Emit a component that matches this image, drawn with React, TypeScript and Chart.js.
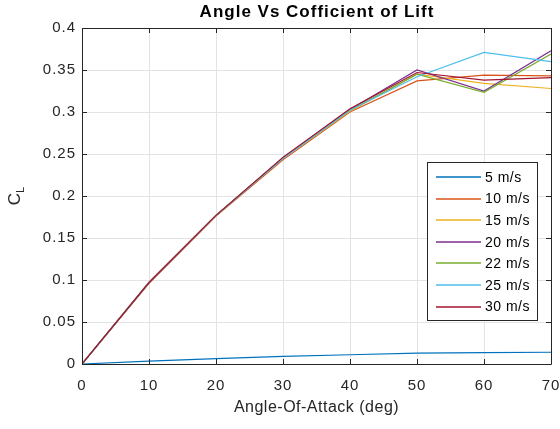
import React, { useEffect, useRef } from "react";
import { Chart, registerables } from "chart.js";

Chart.register(...registerables);

const angles = [0, 10, 20, 30, 40, 50, 60, 70];
const cl5 = [0, 0.0035, 0.0065, 0.009, 0.011, 0.013, 0.0135, 0.014];
const cl10 = [0, 0.096, 0.176, 0.243, 0.3, 0.337, 0.344, 0.343];
const cl15 = [0, 0.097, 0.177, 0.245, 0.301, 0.345, 0.334, 0.328];
const cl20 = [0, 0.097, 0.177, 0.246, 0.303, 0.35, 0.325, 0.373];
const cl22 = [0, 0.097, 0.177, 0.245, 0.302, 0.345, 0.3235, 0.369];
const cl25 = [0, 0.097, 0.177, 0.245, 0.302, 0.342, 0.371, 0.36];
const cl30 = [0, 0.097, 0.177, 0.246, 0.304, 0.347, 0.338, 0.341];

const seriesLabels = ["5 m/s", "10 m/s", "15 m/s", "20 m/s", "22 m/s", "25 m/s", "30 m/s"];
const seriesValues = [cl5, cl10, cl15, cl20, cl22, cl25, cl30];
const seriesColors = ["#0072BD", "#D95319", "#EDB120", "#7E2F8E", "#77AC30", "#4DBEEE", "#A2142F"];

const titleText = "Angle Vs Cofficient of Lift";
const xLabel = "Angle-Of-Attack (deg)";

const FONT = "'Liberation Sans', Arial, Helvetica, sans-serif";
const AXC = "#262626";

const spacingPlugin = {
  id: "spacing",
  beforeDraw(chart: any) {
    (chart.ctx as any).letterSpacing = "1px";
  },
  afterDraw(chart: any) {
    (chart.ctx as any).letterSpacing = "0px";
  },
};

const decorPlugin = {
  id: "decor",
  afterDatasetsDraw(chart: any) {
    const ctx = chart.ctx;
    const a = chart.chartArea;
    const xs = chart.scales.x;
    const ys = chart.scales.y;
    ctx.save();
    ctx.strokeStyle = AXC;
    ctx.lineWidth = 1;
    ctx.beginPath();
    ctx.rect(Math.round(a.left) + 0.5, Math.round(a.top) + 0.5, Math.round(a.right - a.left), Math.round(a.bottom - a.top));
    ctx.stroke();
    const tl = 5;
    ctx.beginPath();
    xs.ticks.forEach((t: any) => {
      const px = Math.round(xs.getPixelForValue(t.value)) + 0.5;
      ctx.moveTo(px, a.bottom);
      ctx.lineTo(px, a.bottom - tl);
      ctx.moveTo(px, a.top);
      ctx.lineTo(px, a.top + tl);
    });
    ys.ticks.forEach((t: any) => {
      const py = Math.round(ys.getPixelForValue(t.value)) + 0.5;
      ctx.moveTo(a.left, py);
      ctx.lineTo(a.left + tl, py);
      ctx.moveTo(a.right, py);
      ctx.lineTo(a.right - tl, py);
    });
    ctx.stroke();

    // title
    ctx.fillStyle = "#000";
    ctx.letterSpacing = "1px";
    ctx.font = `bold 17px ${FONT}`;
    ctx.textAlign = "center";
    ctx.textBaseline = "middle";
    ctx.fillText(titleText, (a.left + a.right) / 2 + 0.5, 12);

    // x label
    ctx.fillStyle = AXC;
    ctx.letterSpacing = "0.5px";
    ctx.font = `16px ${FONT}`;
    ctx.fillText(xLabel, (a.left + a.right) / 2, 408);

    // y label C_L
    ctx.save();
    ctx.letterSpacing = "0px";
    ctx.translate(20, (a.top + a.bottom) / 2);
    ctx.rotate(-Math.PI / 2);
    ctx.font = `17px ${FONT}`;
    const cw = ctx.measureText("C").width;
    ctx.font = `11px ${FONT}`;
    const lw = ctx.measureText("L").width;
    const total = cw + lw;
    ctx.textAlign = "left";
    ctx.textBaseline = "alphabetic";
    ctx.font = `17px ${FONT}`;
    ctx.fillText("C", -total / 2, 0);
    ctx.font = `11px ${FONT}`;
    ctx.fillText("L", -total / 2 + cw, 4);
    ctx.restore();

    // legend
    const lx0 = 427, ly0 = 162, lx1 = 537, ly1 = 320;
    ctx.fillStyle = "#fff";
    ctx.fillRect(lx0, ly0, lx1 - lx0, ly1 - ly0);
    ctx.strokeStyle = AXC;
    ctx.lineWidth = 1;
    ctx.strokeRect(lx0 + 0.5, ly0 + 0.5, lx1 - lx0, ly1 - ly0);
    ctx.font = `14px ${FONT}`;
    ctx.letterSpacing = "0.5px";
    ctx.textAlign = "left";
    ctx.textBaseline = "middle";
    chart.data.datasets.forEach((ds: any, i: number) => {
      const y = 177 + i * 21.6;
      ctx.strokeStyle = ds.borderColor;
      ctx.lineWidth = 1.5;
      ctx.beginPath();
      ctx.moveTo(436, Math.round(y));
      ctx.lineTo(481, Math.round(y));
      ctx.stroke();
      ctx.fillStyle = "#000";
      ctx.fillText(ds.label, 485, y + 1);
    });
    ctx.restore();
  },
};

export default function App() {
  const ref = useRef<HTMLCanvasElement | null>(null);
  useEffect(() => {
    if (!ref.current) return;
    const chart = new Chart(ref.current, {
      type: "line",
      data: {
        datasets: seriesValues.map((vals, i) => ({
          label: seriesLabels[i],
          data: angles.map((a, j) => ({ x: a, y: vals[j] })),
          borderColor: seriesColors[i],
          backgroundColor: seriesColors[i],
          borderWidth: 1.2,
          pointRadius: 0,
          tension: 0,
          fill: false,
          order: seriesLabels.length - i,
        })),
      },
      options: {
        animation: false,
        responsive: false,
        maintainAspectRatio: false,
        layout: { padding: { top: 28, right: 9, left: 0, bottom: 0 } },
        plugins: {
          legend: { display: false },
          title: { display: false },
          tooltip: { enabled: false },
        },
        scales: {
          x: {
            type: "linear",
            min: 0,
            max: 70,
            afterFit: (s: any) => {
              s.height = 65;
              s.paddingLeft = 0;
              s.paddingRight = 0;
            },
            grid: { color: "#e3e3e3", drawTicks: false, lineWidth: 1 },
            border: { display: false },
            ticks: {
              stepSize: 10,
              padding: 13,
              color: AXC,
              font: { family: FONT, size: 15 },
              maxRotation: 0,
            },
          },
          y: {
            type: "linear",
            min: 0,
            max: 0.4,
            afterFit: (s: any) => {
              s.width = 82;
              s.paddingTop = 0;
              s.paddingBottom = 0;
            },
            grid: { color: "#e3e3e3", drawTicks: false, lineWidth: 1 },
            border: { display: false },
            ticks: {
              stepSize: 0.05,
              padding: 6,
              color: AXC,
              font: { family: FONT, size: 15 },
              callback: (v: any) => String(Number(Number(v).toFixed(2))),
            },
          },
        },
      },
      plugins: [spacingPlugin, decorPlugin],
    });
    return () => chart.destroy();
  }, []);
  return (
    <div style={{ position: "fixed", left: 0, top: 0, width: 560, height: 429, background: "#fff" }}>
      <canvas ref={ref} width={560} height={429} style={{ width: 560, height: 429, display: "block" }} />
    </div>
  );
}
